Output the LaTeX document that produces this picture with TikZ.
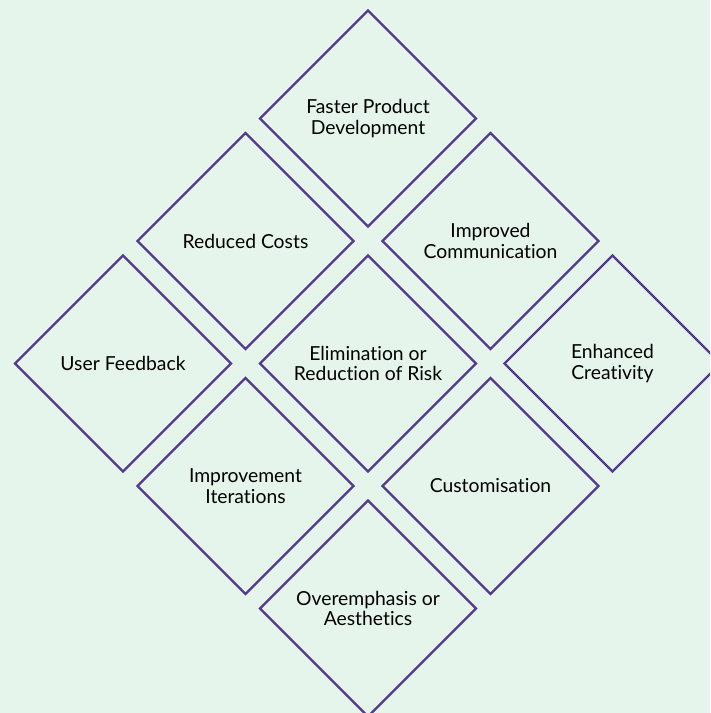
\documentclass[tikz,border=0pt]{standalone}
\usepackage{fontspec}
\setmainfont{Lato}[RawFeature=-liga]
\usetikzlibrary{shapes.geometric}
\definecolor{mint}{HTML}{E6F5EC}
\definecolor{purple}{HTML}{533A8F}
\tikzset{
    tile/.style={shape=diamond, draw=purple, line width=1.25pt, aspect=1,
        minimum width=4.34cm, minimum height=4.34cm, inner sep=0pt,
        align=center, font=\fontsize{11}{11.8}\selectfont}
}

\begin{document}
\begin{tikzpicture}[x=0.02cm,y=-0.02cm]
        \fill[mint] (0,0) rectangle (710,713);
        \useasboundingbox (0,0) rectangle (710,713);
        \clip (0,0) rectangle (710,713);
        \node[tile] (faster)   at (368,118.5)   {Faster Product\\Development};
        \node[tile] (costs)    at (245.5,241)   {Reduced Costs};
        \node[tile] (comm)     at (490.5,241)   {Improved\\Communication};
        \node[tile] (feedback) at (123,363.5)   {User Feedback};
        \node[tile] (risk)     at (368,363.5)   {Elimination or\\Reduction of Risk};
        \node[tile] (creative) at (612.5,363.5) {Enhanced\\Creativity};
        \node[tile] (iter)     at (245.5,486)   {Improvement\\Iterations};
        \node[tile] (custom)   at (490.5,486)   {Customisation};
        \node[tile] (aesth)    at (368,608.5)   {Overemphasis or\\Aesthetics};
    \end{tikzpicture}
\end{document}
